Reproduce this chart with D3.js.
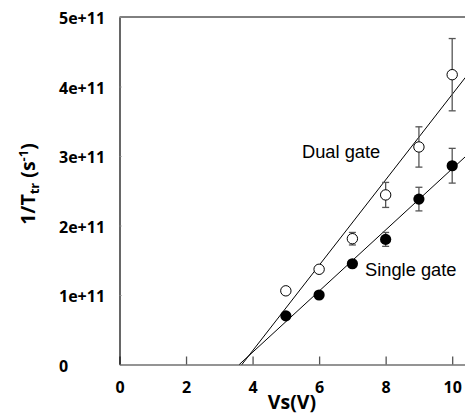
<!DOCTYPE html>
<html><head><meta charset="utf-8">
<script src="https://cdn.jsdelivr.net/npm/d3@7"></script>
<style>html,body{margin:0;padding:0;background:#fff;}svg{display:block;}</style>
</head><body>
<svg id="chart" width="465" height="414"></svg>
<script>
// ---- data ----
const vs = [5, 6, 7, 8, 9, 10];
const dualGate = [1.06e11, 1.37e11, 1.81e11, 2.44e11, 3.13e11, 4.17e11];
const dualErr = [0, 0, 0.09e11, 0.18e11, 0.29e11, 0.52e11];
const singleGate = [0.70e11, 1.00e11, 1.45e11, 1.80e11, 2.38e11, 2.86e11];
const singleErr = [0, 0, 0, 0.10e11, 0.17e11, 0.25e11];
// linear fits: [x-intercept (V), slope (s^-1 per V)]
const fitDual = [3.68, 0.615e11];
const fitSingle = [3.60, 0.44e11];
const xTicks = [0, 2, 4, 6, 8, 10];
const yTicks = [0, 1e11, 2e11, 3e11, 4e11, 5e11];
const yTickLabels = ["0", "1e+11", "2e+11", "3e+11", "4e+11", "5e+11"];
const xMax = 10.4;

const FONT = "'Open Sans', Lato, sans-serif";
const svg = d3.select("#chart");
const x = d3.scaleLinear().domain([0, xMax]).range([119.5, 465.5]);
const y = d3.scaleLinear().domain([0, 5e11]).range([364.5, 17]);

// top frame line
svg.append("line").attr("x1", x(0)).attr("x2", x(xMax)).attr("y1", y(5e11)).attr("y2", y(5e11))
  .attr("stroke", "#000").attr("stroke-width", 1);

// x axis
const gx = svg.append("g").attr("transform", `translate(0,${y(0)})`)
  .call(d3.axisBottom(x).tickValues(xTicks).tickSize(-8).tickSizeOuter(0).tickFormat(d3.format("d")));
gx.select(".domain").attr("stroke", "#707070").attr("stroke-width", 1.3);
gx.selectAll(".tick line").attr("stroke", "#555").attr("stroke-width", 1.3);
gx.selectAll(".tick text").attr("y", 28.5).attr("dy", null)
  .attr("font-family", FONT).attr("font-weight", "bold").attr("font-size", 16).attr("fill", "#000");

// y axis
const gy = svg.append("g").attr("transform", `translate(${x(0)},0)`)
  .call(d3.axisLeft(y).tickValues(yTicks).tickSize(-2).tickSizeOuter(0).tickFormat((d, i) => yTickLabels[i]));
gy.select(".domain").attr("stroke", "#000").attr("stroke-width", 1.2);
gy.selectAll(".tick line").attr("stroke", "#888");
gy.selectAll(".tick text").attr("x", -60.5).attr("text-anchor", "start").attr("dy", "0.42em")
  .attr("font-family", FONT).attr("font-weight", "bold").attr("font-size", 16).attr("fill", "#000");

// axis titles
svg.append("text").attr("x", 292).attr("y", 409).attr("text-anchor", "middle")
  .attr("font-family", FONT).attr("font-weight", "bold").attr("font-size", 19.5)
  .text("Vs(V)");

const yl = svg.append("text").attr("transform", "translate(35,184) rotate(-90)").attr("text-anchor", "middle")
  .attr("font-family", FONT).attr("font-weight", "bold").attr("font-size", 19.5);
yl.append("tspan").text("1/T");
yl.append("tspan").attr("font-size", 13).attr("dy", 4).text("tr");
yl.append("tspan").attr("dy", -4).text(" (s");
yl.append("tspan").attr("font-size", 13).attr("dy", -7).text("-1");
yl.append("tspan").attr("dy", 7).text(")");

// fit lines
function fitLine(fit) {
  return [[fit[0], 0], [xMax, fit[1] * (xMax - fit[0])]];
}
const line = d3.line().x(d => x(d[0])).y(d => y(d[1]));
[fitDual, fitSingle].forEach(f => {
  svg.append("path").attr("d", line(fitLine(f))).attr("fill", "none").attr("stroke", "#000").attr("stroke-width", 1);
});

// error bars
function errorBars(vals, errs) {
  const g = svg.append("g").attr("stroke", "#555").attr("stroke-width", 1.3);
  vs.forEach((v, i) => {
    if (!errs[i]) return;
    const cx = x(v), t = y(vals[i] + errs[i]), b = y(vals[i] - errs[i]);
    g.append("line").attr("x1", cx).attr("x2", cx).attr("y1", t).attr("y2", b);
    g.append("line").attr("x1", cx - 3.5).attr("x2", cx + 3.5).attr("y1", t).attr("y2", t);
    g.append("line").attr("x1", cx - 3.5).attr("x2", cx + 3.5).attr("y1", b).attr("y2", b);
  });
}
errorBars(dualGate, dualErr);
errorBars(singleGate, singleErr);

// markers
svg.append("g").selectAll("circle").data(vs).join("circle")
  .attr("cx", d => x(d)).attr("cy", (d, i) => y(dualGate[i])).attr("r", 5.2)
  .attr("fill", "#fff").attr("stroke", "#000").attr("stroke-width", 1);
svg.append("g").selectAll("circle").data(vs).join("circle")
  .attr("cx", d => x(d)).attr("cy", (d, i) => y(singleGate[i])).attr("r", 5.6)
  .attr("fill", "#000");

// annotations
svg.append("text").attr("x", 302).attr("y", 158).attr("font-family", "'Liberation Sans', Arial, sans-serif")
  .attr("font-size", 18.3).attr("fill", "#000").text("Dual gate");
svg.append("text").attr("x", 365).attr("y", 276).attr("font-family", "'Liberation Sans', Arial, sans-serif")
  .attr("font-size", 18.3).attr("fill", "#000").text("Single gate");
</script>
</body></html>
